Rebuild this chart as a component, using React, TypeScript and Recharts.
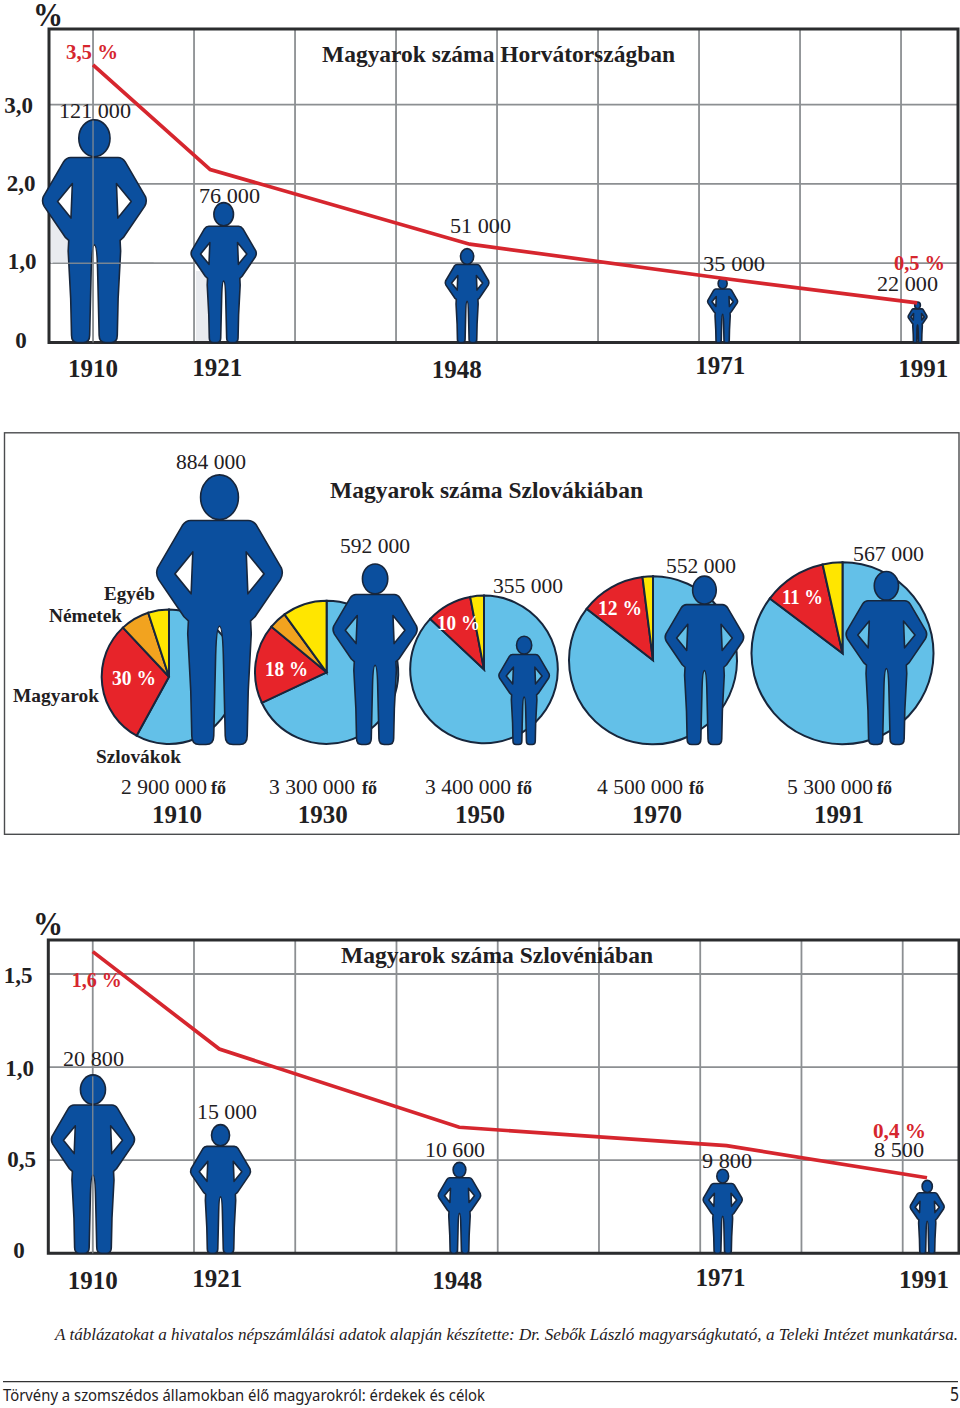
import React from "react";
import { ComposedChart, PieChart, Pie, Cell, Line, Bar, XAxis, YAxis, CartesianGrid, ReferenceArea, ReferenceLine } from "recharts";

// ---------- values ----------
const croatiaYears = ["1910", "1921", "1948", "1971", "1991"];
const croatiaShare = [3.5, 2.18, 1.24, 0.81, 0.5];
const croatiaPeople = [121000, 76000, 51000, 35000, 22000];
const croatiaPeopleText = ["121 000", "76 000", "51 000", "35 000", "22 000"];
const croatiaShareTicks = [0, 1, 2, 3];

const sloveniaYears = ["1910", "1921", "1948", "1971", "1991"];
const sloveniaShare = [1.62, 1.097, 0.677, 0.578, 0.406];
const sloveniaPeople = [20800, 15000, 10600, 9800, 8500];
const sloveniaPeopleText = ["20 800", "15 000", "10 600", "9 800", "8 500"];
const sloveniaShareTicks = [0, 0.5, 1, 1.5];

const slovakiaYears = ["1910", "1930", "1950", "1970", "1991"];
const slovakiaPeople = [884000, 592000, 355000, 552000, 567000];
const slovakiaPeopleText = ["884 000", "592 000", "355 000", "552 000", "567 000"];
const slovakiaTotalText = ["2 900 000", "3 300 000", "3 400 000", "4 500 000", "5 300 000"];
const slovakiaHungarianText = ["30 %", "18 %", "10 %", "12 %", "11 %"];
const groupNames = ["Szlovákok", "Magyarok", "Németek", "Egyéb"];
const slovakiaGroups = [
  [58, 30, 7, 5],
  [68, 18, 4, 10],
  [87, 10, 0, 3],
  [85.5, 12.5, 0, 2],
  [85.3, 11.2, 0, 3.5],
];
const decades = [1910, 1920, 1930, 1940, 1950, 1960, 1970, 1980, 1990];

// ---------- placement along the time axes (the drawing is not to scale) ----------
const croatiaLineAt = [1910, 1921.6, 1947.3, 1972.3, 1991.6];
const croatiaFigureAt = [1910.1, 1922.9, 1947.0, 1972.3, 1991.6];
const croatiaLabelAt = [1910, 1922.3, 1946.0, 1972.1, 1992.2];
const sloveniaLineAt = [1910, 1922.5, 1946.2, 1972.6, 1992.4];
const sloveniaFigureAt = [1910, 1922.6, 1946.2, 1972.2, 1992.4];
const sloveniaLabelAt = [1910, 1922.3, 1946.0, 1972.0, 1992.1];
const slovakiaFigureAt = [1910, 1928.9, 1947.0, 1968.9, 1991.0];
const slovakiaLabelAt = [1904.9, 1922.6, 1941.7, 1963.2, 1985.3];

// ---------- style ----------
const SERIF = "'Liberation Serif', 'Times New Roman', serif";
const INK = "#1f2022";
const RED = "#d6262e";
const GRID = "#8c8f92";
const FRAME = "#2b2c2e";
const BLUE = "#0b4f9e";
const OUTLINE = "#17263c";
const pieColors = ["#63c0e8", "#e7242a", "#f2a31f", "#ffe600"];

const BODY =
  "M0 135 L85 135 Q100 135 110 150 L183 275 Q190 293 180 310 L105 420 L92 432 L94 470 L85 640 L82 772 Q82 798 60 798 L40 798 Q17 798 17 772 L12 560 Q10 448 0 448 Q-10 448 -12 560 L-17 772 Q-17 798 -40 798 L-60 798 Q-82 798 -82 772 L-85 640 L-94 470 L-92 432 L-105 420 L-180 310 Q-190 293 -183 275 L-110 150 Q-100 135 -85 135 Z M79 228 L132 293 L84 352 Z M-79 228 L-132 293 L-84 352 Z";

function Figure(props: any) {
  const { x, y, width, height } = props;
  const s = height / 798;
  return (
    <g transform={`translate(${x + width / 2} ${y}) scale(${s})`}>
      <path d={BODY} fillRule="evenodd" fill={BLUE} stroke={OUTLINE} strokeWidth={1.6} vectorEffect="non-scaling-stroke" strokeLinejoin="round" />
      <ellipse cx={0} cy={66} rx={56} ry={66} fill={BLUE} stroke={OUTLINE} strokeWidth={1.6} vectorEffect="non-scaling-stroke" />
    </g>
  );
}

function Txt({ t, x, y, w, size, bold, italic, color, family }: any) {
  return (
    <text x={x} y={y} fontFamily={family || SERIF} fontSize={size} fontWeight={bold ? 700 : 400} fontStyle={italic ? "italic" : "normal"} fill={color || INK} textLength={w} lengthAdjust="spacingAndGlyphs">
      {t}
    </text>
  );
}

const shareFmt = (v: number) => (v === 0 ? "0" : v.toFixed(1).replace(".", ","));

function ShareChart({ top, height, marginTop, left, right, xDomain, yMax, peopleMax, axisH, years, share, people, lineAt, figureAt, labelAt, ticks, tickMid, tickDrop, yearDrop, yearW, patches, headTop, crossAt }: any) {
  const rows = years.map((year: string, i: number) => ({
    year,
    share: share[i],
    people: people[i],
    lineAt: lineAt[i],
    figureAt: figureAt[i],
    labelAt: labelAt[i],
  }));
  const YearTick = (p: any) => {
    const i = labelAt.indexOf(p.payload.value);
    return (
      <text x={p.x} y={p.y + yearDrop[i]} textAnchor="middle" fontFamily={SERIF} fontWeight={700} fontSize={25} fill={INK} textLength={yearW} lengthAdjust="spacingAndGlyphs">
        {years[i]}
      </text>
    );
  };
  const ShareTick = (p: any) => {
    const i = ticks.indexOf(p.payload.value);
    return (
      <text x={tickMid[i]} y={p.y + tickDrop[i]} textAnchor="middle" fontFamily={SERIF} fontWeight={700} fontSize={23} fill={INK}>
        {shareFmt(p.payload.value)}
      </text>
    );
  };
  return (
    <div style={{ position: "absolute", left: 0, top, width: 960, height }}>
      <ComposedChart width={960} height={height} data={rows} margin={{ top: marginTop, left: 0, right: 960 - right, bottom: 0 }}>
        {(patches || []).map((p: any, i: number) => (
          <ReferenceArea key={i} xAxisId="decade" yAxisId="share" x1={p[0]} x2={p[1]} y1={p[2]} y2={p[3]} fill="#e9ebef" stroke="none" fillOpacity={1} />
        ))}
        <CartesianGrid xAxisId="decade" yAxisId="share" stroke={GRID} strokeWidth={1.8} />
        <XAxis xAxisId="label" dataKey="labelAt" type="number" domain={xDomain} ticks={labelAt} interval={0} height={axisH} axisLine={false} tickLine={false} tickSize={0} tickMargin={0} tick={YearTick} />
        <XAxis xAxisId="decade" dataKey="lineAt" type="number" domain={xDomain} ticks={decades} hide height={0} />
        <XAxis xAxisId="line" dataKey="lineAt" type="number" domain={xDomain} hide height={0} />
        <XAxis xAxisId="figure" dataKey="figureAt" type="number" domain={xDomain} hide height={0} />
        <YAxis yAxisId="share" dataKey="share" type="number" domain={[0, yMax]} ticks={ticks} interval={0} width={left} axisLine={false} tickLine={false} tick={ShareTick} />
        <YAxis yAxisId="people" dataKey="people" orientation="right" type="number" domain={[0, peopleMax]} hide width={0} />
        <Bar xAxisId="figure" yAxisId="people" dataKey="people" barSize={20} shape={Figure} isAnimationActive={false} />
        <ReferenceLine xAxisId="decade" yAxisId="share" segment={[{ x: 1910, y: 0 }, { x: 1910, y: headTop }]} stroke={GRID} strokeOpacity={0.85} strokeWidth={1.4} />
        {crossAt != null && (
          <ReferenceLine xAxisId="decade" yAxisId="share" segment={[{ x: 1906, y: crossAt }, { x: 1916, y: crossAt }]} stroke={GRID} strokeOpacity={0.85} strokeWidth={1.4} />
        )}
        <Line xAxisId="line" yAxisId="share" dataKey="share" type="linear" stroke={RED} strokeWidth={3.7} dot={false} isAnimationActive={false} />
        <ReferenceArea xAxisId="decade" yAxisId="share" x1={xDomain[0]} x2={xDomain[1]} y1={0} y2={yMax} fill="none" stroke={FRAME} strokeWidth={3} ifOverflow="visible" />
      </ComposedChart>
    </div>
  );
}

const piePlaces = [
  { cx: 169, cy: 243.7, r: 67.3 },
  { cx: 326.6, cy: 239.3, r: 71.6 },
  { cx: 484, cy: 236.4, r: 73.8 },
  { cx: 653, cy: 227.3, r: 84 },
  { cx: 842.5, cy: 220.3, r: 91 },
];
const pieW = { total: 86, fo: 15 };

const slovakiaRows = slovakiaYears.map((year, i) => ({
  year,
  people: slovakiaPeople[i],
  figureAt: slovakiaFigureAt[i],
  labelAt: slovakiaLabelAt[i],
}));

function SlovakiaYearTick(p: any) {
  const i = slovakiaLabelAt.indexOf(p.payload.value);
  return (
    <text x={p.x} y={p.y + 78} textAnchor="middle" fontFamily={SERIF} fontWeight={700} fontSize={25} fill={INK} textLength={50} lengthAdjust="spacingAndGlyphs">
      {slovakiaYears[i]}
    </text>
  );
}

function SlovakiaPanel() {
  return (
    <div style={{ position: "absolute", left: 0, top: 433, width: 960, height: 401 }}>
      <div style={{ position: "absolute", left: 0, top: 0 }}>
        <PieChart width={960} height={401} margin={{ top: 0, left: 0, right: 0, bottom: 0 }}>
          {slovakiaGroups.map((g, i) => (
            <Pie
              key={i}
              data={groupNames.map((name, k) => ({ name, value: g[k] }))}
              dataKey="value"
              nameKey="name"
              cx={piePlaces[i].cx}
              cy={piePlaces[i].cy}
              outerRadius={piePlaces[i].r}
              startAngle={90}
              endAngle={-270}
              stroke={OUTLINE}
              strokeWidth={2}
              isAnimationActive={false}
            >
              {groupNames.map((name, k) => (
                <Cell key={name} fill={pieColors[k]} />
              ))}
            </Pie>
          ))}
        </PieChart>
      </div>
      <div style={{ position: "absolute", left: 0, top: 0 }}>
        <ComposedChart width={960} height={401} data={slovakiaRows} margin={{ top: 0, left: 0, right: 0, bottom: 0 }}>
          <XAxis xAxisId="label" dataKey="labelAt" type="number" domain={[1883.4, 2000]} ticks={slovakiaLabelAt} interval={0} height={89.5} axisLine={false} tickLine={false} tickSize={0} tickMargin={0} tick={SlovakiaYearTick} />
          <XAxis xAxisId="figure" dataKey="figureAt" type="number" domain={[1883.4, 2000]} hide height={0} />
          <YAxis yAxisId="people" type="number" domain={[0, 1021300]} hide width={0} />
          <Bar xAxisId="figure" yAxisId="people" dataKey="people" barSize={20} shape={Figure} isAnimationActive={false} />
        </ComposedChart>
      </div>
    </div>
  );
}

// ---------- where the written labels sit: [x, baseline, width] ----------
const croatiaPeopleAt = [[59, 118, 72], [199, 203, 61], [450, 233, 61], [703, 271, 62], [877, 291, 61]];
const sloveniaPeopleAt = [[63, 1066, 61], [197, 1119, 60], [425, 1157, 60], [702, 1168, 50], [874, 1157, 50]];
const slovakiaPeopleAt = [[176, 469, 70], [340, 553, 70], [493, 593, 70], [666, 573, 70], [853, 561, 71]];
const slovakiaTotalAt = [[121, 794], [269, 794], [425, 794], [597, 794], [787, 794]];
const slovakiaFoAt = [211, 362, 517, 689, 877];
const slovakiaShareAt = [[112, 685, 44], [265, 676, 43], [437, 630, 43], [598, 615, 44], [782, 604, 41]];
const groupAt = [[96, 763, 85], [13, 702, 86], [49, 622, 73], [104, 600, 51]];

function Overlay() {
  return (
    <svg width={960} height={1408} style={{ position: "absolute", left: 0, top: 0, pointerEvents: "none" }}>
      {/* Croatia */}
      <Txt t="%" x={33} y={26} w={30} size={33} bold />
      <Txt t="3,5 %" x={66} y={59} w={52} size={21} bold color={RED} />
      <Txt t="Magyarok száma Horvátországban" x={322} y={62} w={353} size={24} bold />
      {croatiaPeopleText.map((t, i) => (
        <Txt key={t} t={t} x={croatiaPeopleAt[i][0]} y={croatiaPeopleAt[i][1]} w={croatiaPeopleAt[i][2]} size={22} />
      ))}
      <Txt t="0,5 %" x={894} y={270} w={51} size={21} bold color={RED} />

      {/* Slovakia */}
      <rect x={4.5} y={432.8} width={954.5} height={401.5} fill="none" stroke="#4a4c4e" strokeWidth={1.4} />
      <Txt t="Magyarok száma Szlovákiában" x={330} y={498} w={313} size={23} bold />
      {slovakiaPeopleText.map((t, i) => (
        <Txt key={t} t={t} x={slovakiaPeopleAt[i][0]} y={slovakiaPeopleAt[i][1]} w={slovakiaPeopleAt[i][2]} size={22} />
      ))}
      {groupNames.map((t, i) => (
        <Txt key={t} t={t} x={groupAt[i][0]} y={groupAt[i][1]} w={groupAt[i][2]} size={19.5} bold />
      ))}
      {slovakiaHungarianText.map((t, i) => (
        <Txt key={t} t={t} x={slovakiaShareAt[i][0]} y={slovakiaShareAt[i][1]} w={slovakiaShareAt[i][2]} size={21} bold color="#ffffff" />
      ))}
      {slovakiaTotalText.map((t, i) => (
        <Txt key={t} t={t} x={slovakiaTotalAt[i][0]} y={slovakiaTotalAt[i][1]} w={pieW.total} size={22} />
      ))}
      {slovakiaFoAt.map((x, i) => (
        <Txt key={i} t="fő" x={x} y={794} w={pieW.fo} size={19} bold />
      ))}

      {/* Slovenia */}
      <Txt t="%" x={33} y={935} w={30} size={33} bold />
      <Txt t="1,6 %" x={71.7} y={987} w={50} size={21} bold color={RED} />
      <Txt t="Magyarok száma Szlovéniában" x={341} y={963} w={312} size={23} bold />
      {sloveniaPeopleText.map((t, i) => (
        <Txt key={t} t={t} x={sloveniaPeopleAt[i][0]} y={sloveniaPeopleAt[i][1]} w={sloveniaPeopleAt[i][2]} size={22} />
      ))}
      <Txt t="0,4 %" x={873} y={1138} w={53} size={21} bold color={RED} />

      {/* Notes */}
      <Txt t="A táblázatokat a hivatalos népszámlálási adatok alapján készítette: Dr. Sebők László magyarságkutató, a Teleki Intézet munkatársa." x={55} y={1340} w={903} size={17} italic />
      <line x1={3} x2={958} y1={1381.7} y2={1381.7} stroke="#333" strokeWidth={1.2} />
      <Txt t="Törvény a szomszédos államokban élő magyarokról: érdekek és célok" x={3} y={1401} w={482} size={17} family="'Noto Sans', sans-serif" />
      <Txt t="5" x={950} y={1401} w={9} size={19} family="'Noto Sans', sans-serif" />
    </svg>
  );
}

export default function App() {
  return (
    <div style={{ position: "absolute", left: 0, top: 0, width: 960, height: 1408, background: "#fff", overflow: "hidden" }}>
      <ShareChart
        top={0}
        height={390}
        marginTop={29}
        left={49}
        right={958}
        xDomain={[1905.64, 1995.64]}
        yMax={3.953}
        peopleMax={170380}
        axisH={47.5}
        years={croatiaYears}
        share={croatiaShare}
        people={croatiaPeople}
        lineAt={croatiaLineAt}
        figureAt={croatiaFigureAt}
        labelAt={croatiaLabelAt}
        ticks={croatiaShareTicks}
        tickMid={[21, 22, 21, 18.5]}
        tickDrop={[5.5, 6, 7, 8]}
        yearDrop={[34, 33, 35.5, 31.5, 34]}
        yearW={50}
        patches={[[1905.8, 1907.7, 1, 1.55], [1920.2, 1921.5, 0, 0.9]]}
        headTop={2.8}
        crossAt={1}
      />
      <ShareChart
        top={890}
        height={430}
        marginTop={50}
        left={48.3}
        right={959}
        xDomain={[1905.61, 1995.56]}
        yMax={1.6826}
        peopleMax={36515}
        axisH={66.7}
        years={sloveniaYears}
        share={sloveniaShare}
        people={sloveniaPeople}
        lineAt={sloveniaLineAt}
        figureAt={sloveniaFigureAt}
        labelAt={sloveniaLabelAt}
        ticks={sloveniaShareTicks}
        tickMid={[19, 21.5, 19.5, 18]}
        tickDrop={[5, 7, 8.4, 9]}
        yearDrop={[35.7, 33.7, 36, 32.4, 34.7]}
        yearW={50}
        headTop={0.95}
      />
      <SlovakiaPanel />
      <Overlay />
    </div>
  );
}
